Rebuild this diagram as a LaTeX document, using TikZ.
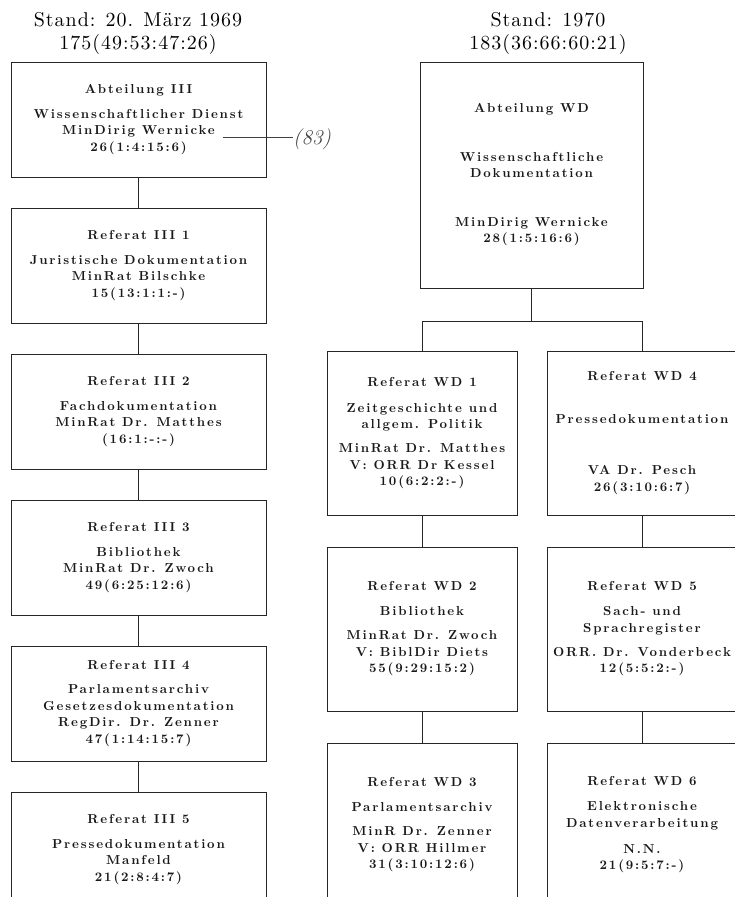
\documentclass[tikz,border=0pt]{standalone}
\usepackage{fontspec}
\usetikzlibrary{positioning}

\newfontfamily\boxfamily{lmroman10-bold.otf}[LetterSpace=14]
\newfontfamily\standfamily{lmroman10-regular.otf}[LetterSpace=5]
\newcommand{\boxfont}{\boxfamily\fontsize{13}{16.5}\selectfont}

\begin{document}
\begin{tikzpicture}[x=1pt, y=1pt,
		stand/.style={align=center, text=black, font=\standfamily\fontsize{20}{23}\selectfont},
		box/.style={draw=black!85, line width=1pt, align=center, text=black!90, font=\boxfont},
		iiibox/.style={box, minimum width=255pt, minimum height=115pt},
		wdbox/.style={box, minimum width=190pt, minimum height=164pt},
		linie/.style={draw=black!85, line width=1pt}]
	\useasboundingbox (0,0) rectangle (735,-897);

	% Stand 1969
	\node (stand69) [stand] at (138,-33) {Stand: 20. März 1969\\175(49:53:47:26)};
	\node (a3) [iiibox] at (138.5,-119.5) {Abteilung III\\[8.5pt]
		Wissenschaftlicher Dienst\\MinDirig Wernicke\\26(1:4:15:6)};
	\node (r1) [iiibox, below=30pt of a3] {Referat III 1\\[8.5pt]
		Juristische Dokumentation\\MinRat Bilschke\\15(13:1:1:-)};
	\node (r2) [iiibox, below=30pt of r1] {Referat III 2\\[8.5pt]
		Fachdokumentation\\MinRat Dr. Matthes\\(16:1:-:-)};
	\node (r3) [iiibox, below=30pt of r2] {Referat III 3\\[8.5pt]
		Bibliothek\\MinRat Dr. Zwoch\\49(6:25:12:6)};
	\node (r4) [iiibox, below=30pt of r3] {Referat III 4\\[7.5pt]
		Parlamentsarchiv\\Gesetzesdokumentation\\RegDir. Dr. Zenner\\47(1:14:15:7)};
	\node (r5) [iiibox, below=30pt of r4] {Referat III 5\\[8.5pt]
		Pressedokumentation\\Manfeld\\21(2:8:4:7)};

	\draw [linie] (a3.south) -- (r1.north);
	\draw [linie] (r1.south) -- (r2.north);
	\draw [linie] (r2.south) -- (r3.north);
	\draw [linie] (r3.south) -- (r4.north);
	\draw [linie] (r4.south) -- (r5.north);

	% handschriftlich
	\coordinate (wernicke) at (223,-137);
	\node (note) [inner sep=0pt, text=black!75, font=\fontsize{21}{21}\selectfont\itshape] at (312,-139) {(83)};
	\draw [black!75, line width=.6pt] (wernicke) -- (wernicke -| note.west);

	% Stand 1970
	\node (stand70) [stand] at (548,-33) {Stand: 1970\\183(36:66:60:21)};
	\node (wd) [box, minimum width=223pt, minimum height=226pt] at (531.5,-175) {Abteilung WD\\[32pt]
		Wissenschaftliche\\Dokumentation\\[32pt]
		MinDirig Wernicke\\28(1:5:16:6)};

	\node (wd1) [wdbox] at (422,-433) {Referat WD 1\\[9.5pt]
		Zeitgeschichte und\\allgem. Politik\\[7.5pt]
		MinRat Dr. Matthes\\V: ORR Dr Kessel\\10(6:2:2:-)};
	\node (wd2) [wdbox, below=31pt of wd1] {Referat WD 2\\[8.5pt]
		Bibliothek\\[7.5pt]
		MinRat Dr. Zwoch\\V: BiblDir Diets\\55(9:29:15:2)};
	\node (wd3) [wdbox, below=31pt of wd2] {Referat WD 3\\[8.5pt]
		Parlamentsarchiv\\[7.5pt]
		MinR Dr. Zenner\\V: ORR Hillmer\\31(3:10:12:6)};
	\node (wd4) [wdbox] at (642,-433) {Referat WD 4\\[26.5pt]
		Pressedokumentation\\[34.5pt]
		VA Dr. Pesch\\26(3:10:6:7)};
	\node (wd5) [wdbox, below=31pt of wd4] {Referat WD 5\\[8.5pt]
		Sach- und\\Sprachregister\\[7.5pt]
		ORR. Dr. Vonderbeck\\12(5:5:2:-)};
	\node (wd6) [wdbox, below=31pt of wd5] {Referat WD 6\\[8.5pt]
		Elektronische\\Datenverarbeitung\\[9.5pt]
		N.N.\\21(9:5:7:-)};

	\draw [linie] (wd.south) -- ++(0,-33) coordinate (fork);
	\draw [linie] (wd1.north) |- (fork) -| (wd4.north);
	\draw [linie] (wd1.south) -- (wd2.north);
	\draw [linie] (wd2.south) -- (wd3.north);
	\draw [linie] (wd4.south) -- (wd5.north);
	\draw [linie] (wd5.south) -- (wd6.north);
\end{tikzpicture}
\end{document}
